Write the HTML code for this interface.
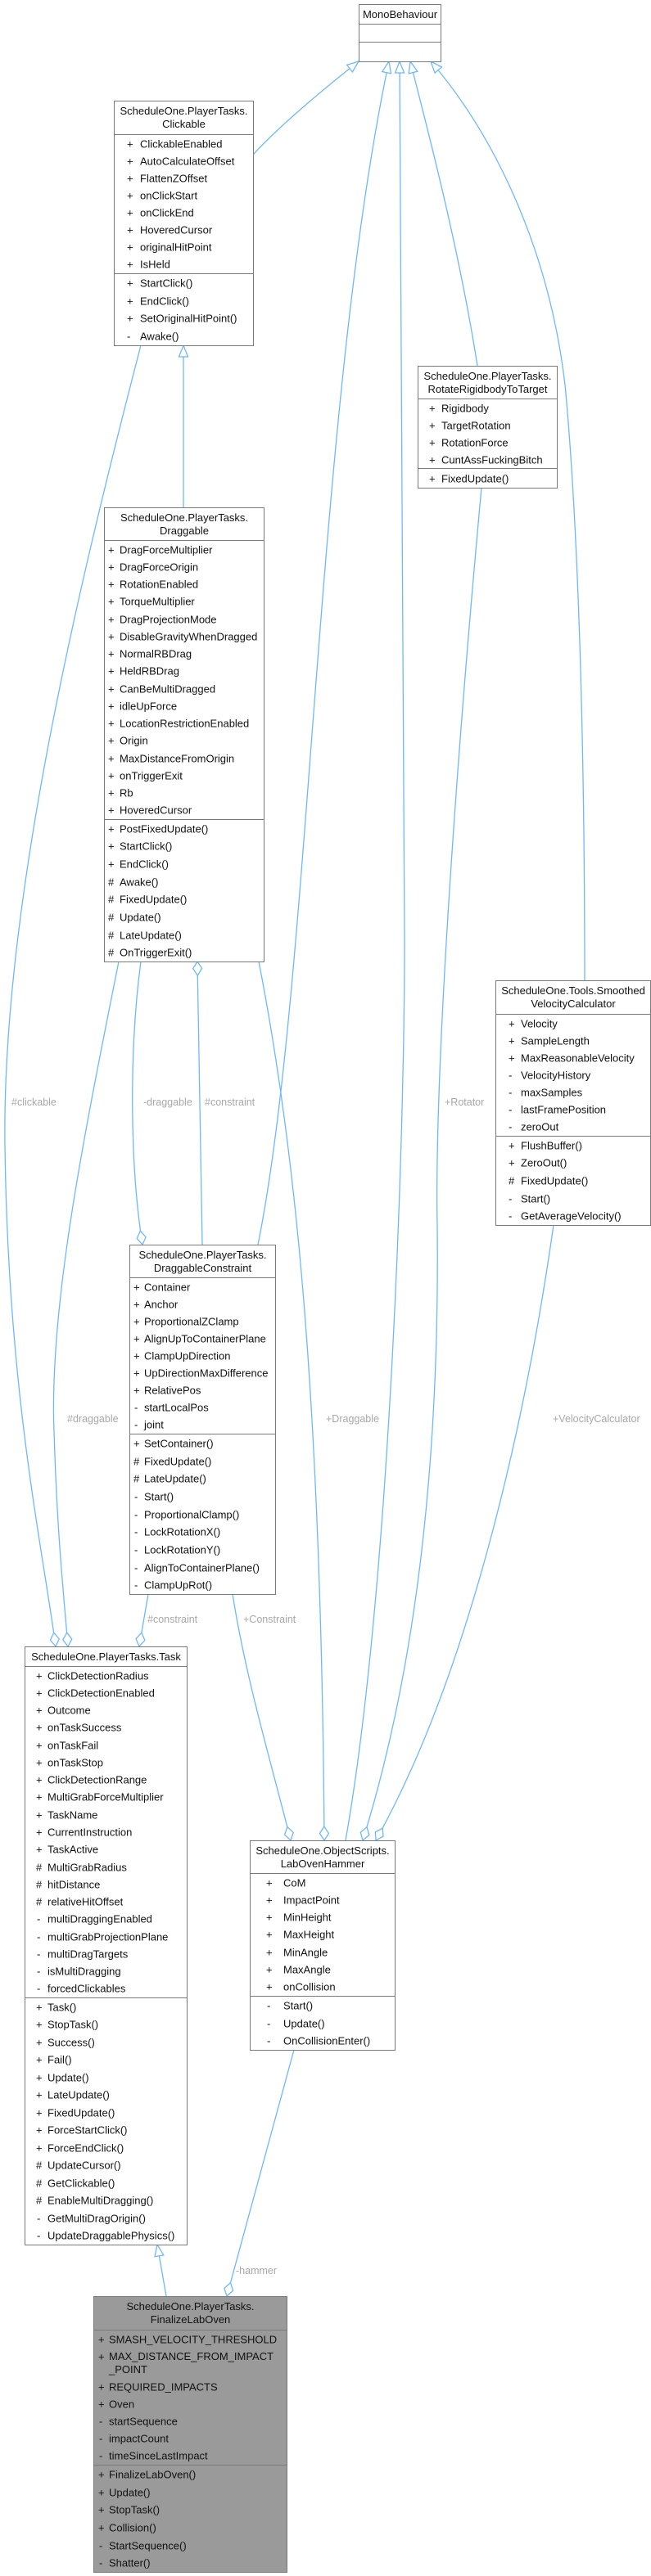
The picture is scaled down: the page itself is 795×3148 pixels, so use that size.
<!DOCTYPE html>
<html><head><meta charset="utf-8"><style>
html,body{margin:0;padding:0;background:#fff;}
body{width:795px;height:3148px;position:relative;overflow:hidden;font-family:"Liberation Sans",Arial,sans-serif;}
.b{position:absolute;border:1.5px solid #7a7a7a;background:#fff;box-sizing:border-box;font-size:13px;color:#111;display:flex;flex-direction:column;}
.t{display:flex;align-items:center;justify-content:center;text-align:center;line-height:16px;border-bottom:1.5px solid #7a7a7a;box-sizing:border-box;flex:none;}
.c{display:flex;flex-direction:column;border-bottom:1.5px solid #7a7a7a;box-sizing:border-box;flex:none;}
.c:last-child{border-bottom:none;flex:1;}
.r{flex:1;position:relative;white-space:nowrap;}
.r span{position:absolute;top:50%;transform:translateY(-50%);}
.g{background:#9a9a9a;}
.l{position:absolute;font-size:12.5px;color:#a8a8a8;white-space:nowrap;line-height:14px;}
svg{position:absolute;left:0;top:0;}
</style></head><body>
<svg width="795" height="3148" viewBox="0 0 795 3148">
<defs>
<marker id="tri" markerUnits="userSpaceOnUse" markerWidth="16" markerHeight="14" refX="14" refY="6" orient="auto" overflow="visible">
<path d="M0,0.5 L14,6 L0,11.5 z" fill="#fff" stroke="#6cb8ff" stroke-width="1.3"/></marker>
<marker id="dia" markerUnits="userSpaceOnUse" markerWidth="19" markerHeight="12" refX="17" refY="5.5" orient="auto" overflow="visible">
<path d="M0,5.5 L8.5,0 L17,5.5 L8.5,11 z" fill="#fff" stroke="#6cb8ff" stroke-width="1.3"/></marker>
</defs>
<g fill="none" stroke="#6cb8ff" stroke-width="1.3">
<!-- inheritance to MonoBehaviour -->
<path d="M309,189 C345,150 400,105 438,75" marker-end="url(#tri)"/>
<path d="M315,1521 C380,1200 385,500 475,75" marker-end="url(#tri)"/>
<path d="M422,2249 C475,1950 494,1400 494,1150 L488,75" marker-end="url(#tri)"/>
<path d="M583,447 C560,300 520,150 501,75" marker-end="url(#tri)"/>
<path d="M714,1199 C714,900 706,640 690,470 C670,300 600,160 526,75" marker-end="url(#tri)"/>
<!-- Draggable -> Clickable -->
<path d="M224,620 L224,422" marker-end="url(#tri)"/>
<!-- Finalize -> Task -->
<path d="M203,2806 L192,2743" marker-end="url(#tri)"/>
<!-- #clickable -->
<path d="M172,422 C100,700 2,1100 6,1400 C10,1700 50,1880 68,2012" marker-end="url(#dia)"/>
<!-- #draggable -->
<path d="M145,1175 C100,1400 60,1600 66,1750 C70,1880 78,1950 83,2012" marker-end="url(#dia)"/>
<!-- -draggable -->
<path d="M172,1175 C158,1280 158,1420 174,1521" marker-end="url(#dia)"/>
<!-- #constraint (Draggable) -->
<path d="M247,1521 L241,1175" marker-end="url(#dia)"/>
<!-- #constraint (Task) -->
<path d="M181,1948 L170,2012" marker-end="url(#dia)"/>
<!-- +Constraint -->
<path d="M284,1948 C300,2050 330,2150 355,2249" marker-end="url(#dia)"/>
<!-- +Draggable -->
<path d="M316,1175 C360,1400 392,1700 396,2249" marker-end="url(#dia)"/>
<!-- +Rotator -->
<path d="M588,596 C560,900 530,1300 534,1500 C537,1800 505,2050 443,2249" marker-end="url(#dia)"/>
<!-- +VelocityCalculator -->
<path d="M676,1497 C640,1750 570,2050 459,2249" marker-end="url(#dia)"/>
<!-- -hammer -->
<path d="M359,2505 L277,2806" marker-end="url(#dia)"/>
</g>
</svg>

<div class="l" style="left:14px;top:1340px">#clickable</div>
<div class="l" style="left:175px;top:1340px">-draggable</div>
<div class="l" style="left:250px;top:1340px">#constraint</div>
<div class="l" style="left:543px;top:1340px">+Rotator</div>
<div class="l" style="left:82px;top:1727px">#draggable</div>
<div class="l" style="left:398px;top:1727px">+Draggable</div>
<div class="l" style="left:675px;top:1727px">+VelocityCalculator</div>
<div class="l" style="left:180px;top:1972px">#constraint</div>
<div class="l" style="left:297px;top:1972px">+Constraint</div>
<div class="l" style="left:288px;top:2768px">-hammer</div>

<!-- MonoBehaviour -->
<div class="b" style="left:438px;top:5px;width:101px;height:71px">
<div class="t" style="height:24px">MonoBehaviour</div>
<div class="c" style="height:22px"></div>
<div class="c"></div>
</div>

<!-- Clickable -->
<div class="b" style="left:139px;top:123px;width:171px;height:300px">
<div class="t" style="height:41px">ScheduleOne.PlayerTasks.<br>Clickable</div>
<div class="c" style="height:170px">
<div class="r"><span style="left:15px">+</span><span style="left:31px">ClickableEnabled</span></div>
<div class="r"><span style="left:15px">+</span><span style="left:31px">AutoCalculateOffset</span></div>
<div class="r"><span style="left:15px">+</span><span style="left:31px">FlattenZOffset</span></div>
<div class="r"><span style="left:15px">+</span><span style="left:31px">onClickStart</span></div>
<div class="r"><span style="left:15px">+</span><span style="left:31px">onClickEnd</span></div>
<div class="r"><span style="left:15px">+</span><span style="left:31px">HoveredCursor</span></div>
<div class="r"><span style="left:15px">+</span><span style="left:31px">originalHitPoint</span></div>
<div class="r"><span style="left:15px">+</span><span style="left:31px">IsHeld</span></div>
</div>
<div class="c">
<div class="r"><span style="left:15px">+</span><span style="left:31px">StartClick()</span></div>
<div class="r"><span style="left:15px">+</span><span style="left:31px">EndClick()</span></div>
<div class="r"><span style="left:15px">+</span><span style="left:31px">SetOriginalHitPoint()</span></div>
<div class="r"><span style="left:15px">-</span><span style="left:31px">Awake()</span></div>
</div>
</div>

<!-- RotateRigidbodyToTarget -->
<div class="b" style="left:510px;top:447px;width:171px;height:150px">
<div class="t" style="height:40px">ScheduleOne.PlayerTasks.<br>RotateRigidbodyToTarget</div>
<div class="c" style="height:85px">
<div class="r"><span style="left:13px">+</span><span style="left:28px">Rigidbody</span></div>
<div class="r"><span style="left:13px">+</span><span style="left:28px">TargetRotation</span></div>
<div class="r"><span style="left:13px">+</span><span style="left:28px">RotationForce</span></div>
<div class="r"><span style="left:13px">+</span><span style="left:28px">CuntAssFuckingBitch</span></div>
</div>
<div class="c">
<div class="r"><span style="left:13px">+</span><span style="left:28px">FixedUpdate()</span></div>
</div>
</div>

<!-- Draggable -->
<div class="b" style="left:127px;top:620px;width:196px;height:556px">
<div class="t" style="height:40px">ScheduleOne.PlayerTasks.<br>Draggable</div>
<div class="c" style="height:341px">
<div class="r"><span style="left:4px">+</span><span style="left:18px">DragForceMultiplier</span></div>
<div class="r"><span style="left:4px">+</span><span style="left:18px">DragForceOrigin</span></div>
<div class="r"><span style="left:4px">+</span><span style="left:18px">RotationEnabled</span></div>
<div class="r"><span style="left:4px">+</span><span style="left:18px">TorqueMultiplier</span></div>
<div class="r"><span style="left:4px">+</span><span style="left:18px">DragProjectionMode</span></div>
<div class="r"><span style="left:4px">+</span><span style="left:18px">DisableGravityWhenDragged</span></div>
<div class="r"><span style="left:4px">+</span><span style="left:18px">NormalRBDrag</span></div>
<div class="r"><span style="left:4px">+</span><span style="left:18px">HeldRBDrag</span></div>
<div class="r"><span style="left:4px">+</span><span style="left:18px">CanBeMultiDragged</span></div>
<div class="r"><span style="left:4px">+</span><span style="left:18px">idleUpForce</span></div>
<div class="r"><span style="left:4px">+</span><span style="left:18px">LocationRestrictionEnabled</span></div>
<div class="r"><span style="left:4px">+</span><span style="left:18px">Origin</span></div>
<div class="r"><span style="left:4px">+</span><span style="left:18px">MaxDistanceFromOrigin</span></div>
<div class="r"><span style="left:4px">+</span><span style="left:18px">onTriggerExit</span></div>
<div class="r"><span style="left:4px">+</span><span style="left:18px">Rb</span></div>
<div class="r"><span style="left:4px">+</span><span style="left:18px">HoveredCursor</span></div>
</div>
<div class="c">
<div class="r"><span style="left:4px">+</span><span style="left:18px">PostFixedUpdate()</span></div>
<div class="r"><span style="left:4px">+</span><span style="left:18px">StartClick()</span></div>
<div class="r"><span style="left:4px">+</span><span style="left:18px">EndClick()</span></div>
<div class="r"><span style="left:4px">#</span><span style="left:18px">Awake()</span></div>
<div class="r"><span style="left:4px">#</span><span style="left:18px">FixedUpdate()</span></div>
<div class="r"><span style="left:4px">#</span><span style="left:18px">Update()</span></div>
<div class="r"><span style="left:4px">#</span><span style="left:18px">LateUpdate()</span></div>
<div class="r"><span style="left:4px">#</span><span style="left:18px">OnTriggerExit()</span></div>
</div>
</div>

<!-- SmoothedVelocityCalculator -->
<div class="b" style="left:605px;top:1198px;width:190px;height:300px">
<div class="t" style="height:41px">ScheduleOne.Tools.Smoothed<br>VelocityCalculator</div>
<div class="c" style="height:149px">
<div class="r"><span style="left:15px">+</span><span style="left:30px">Velocity</span></div>
<div class="r"><span style="left:15px">+</span><span style="left:30px">SampleLength</span></div>
<div class="r"><span style="left:15px">+</span><span style="left:30px">MaxReasonableVelocity</span></div>
<div class="r"><span style="left:15px">-</span><span style="left:30px">VelocityHistory</span></div>
<div class="r"><span style="left:15px">-</span><span style="left:30px">maxSamples</span></div>
<div class="r"><span style="left:15px">-</span><span style="left:30px">lastFramePosition</span></div>
<div class="r"><span style="left:15px">-</span><span style="left:30px">zeroOut</span></div>
</div>
<div class="c">
<div class="r"><span style="left:15px">+</span><span style="left:30px">FlushBuffer()</span></div>
<div class="r"><span style="left:15px">+</span><span style="left:30px">ZeroOut()</span></div>
<div class="r"><span style="left:15px">#</span><span style="left:30px">FixedUpdate()</span></div>
<div class="r"><span style="left:15px">-</span><span style="left:30px">Start()</span></div>
<div class="r"><span style="left:15px">-</span><span style="left:30px">GetAverageVelocity()</span></div>
</div>
</div>

<!-- DraggableConstraint -->
<div class="b" style="left:158px;top:1521px;width:179px;height:428px">
<div class="t" style="height:40px">ScheduleOne.PlayerTasks.<br>DraggableConstraint</div>
<div class="c" style="height:191px">
<div class="r"><span style="left:4px">+</span><span style="left:17px">Container</span></div>
<div class="r"><span style="left:4px">+</span><span style="left:17px">Anchor</span></div>
<div class="r"><span style="left:4px">+</span><span style="left:17px">ProportionalZClamp</span></div>
<div class="r"><span style="left:4px">+</span><span style="left:17px">AlignUpToContainerPlane</span></div>
<div class="r"><span style="left:4px">+</span><span style="left:17px">ClampUpDirection</span></div>
<div class="r"><span style="left:4px">+</span><span style="left:17px">UpDirectionMaxDifference</span></div>
<div class="r"><span style="left:4px">+</span><span style="left:17px">RelativePos</span></div>
<div class="r"><span style="left:5px">-</span><span style="left:17px">startLocalPos</span></div>
<div class="r"><span style="left:5px">-</span><span style="left:17px">joint</span></div>
</div>
<div class="c">
<div class="r"><span style="left:4px">+</span><span style="left:17px">SetContainer()</span></div>
<div class="r"><span style="left:4px">#</span><span style="left:17px">FixedUpdate()</span></div>
<div class="r"><span style="left:4px">#</span><span style="left:17px">LateUpdate()</span></div>
<div class="r"><span style="left:5px">-</span><span style="left:17px">Start()</span></div>
<div class="r"><span style="left:5px">-</span><span style="left:17px">ProportionalClamp()</span></div>
<div class="r"><span style="left:5px">-</span><span style="left:17px">LockRotationX()</span></div>
<div class="r"><span style="left:5px">-</span><span style="left:17px">LockRotationY()</span></div>
<div class="r"><span style="left:5px">-</span><span style="left:17px">AlignToContainerPlane()</span></div>
<div class="r"><span style="left:5px">-</span><span style="left:17px">ClampUpRot()</span></div>
</div>
</div>

<!-- Task -->
<div class="b" style="left:30px;top:2012px;width:199px;height:732px">
<div class="t" style="height:24px">ScheduleOne.PlayerTasks.Task</div>
<div class="c" style="height:405px">
<div class="r"><span style="left:13px">+</span><span style="left:27px">ClickDetectionRadius</span></div>
<div class="r"><span style="left:13px">+</span><span style="left:27px">ClickDetectionEnabled</span></div>
<div class="r"><span style="left:13px">+</span><span style="left:27px">Outcome</span></div>
<div class="r"><span style="left:13px">+</span><span style="left:27px">onTaskSuccess</span></div>
<div class="r"><span style="left:13px">+</span><span style="left:27px">onTaskFail</span></div>
<div class="r"><span style="left:13px">+</span><span style="left:27px">onTaskStop</span></div>
<div class="r"><span style="left:13px">+</span><span style="left:27px">ClickDetectionRange</span></div>
<div class="r"><span style="left:13px">+</span><span style="left:27px">MultiGrabForceMultiplier</span></div>
<div class="r"><span style="left:13px">+</span><span style="left:27px">TaskName</span></div>
<div class="r"><span style="left:13px">+</span><span style="left:27px">CurrentInstruction</span></div>
<div class="r"><span style="left:13px">+</span><span style="left:27px">TaskActive</span></div>
<div class="r"><span style="left:13px">#</span><span style="left:27px">MultiGrabRadius</span></div>
<div class="r"><span style="left:13px">#</span><span style="left:27px">hitDistance</span></div>
<div class="r"><span style="left:13px">#</span><span style="left:27px">relativeHitOffset</span></div>
<div class="r"><span style="left:14px">-</span><span style="left:27px">multiDraggingEnabled</span></div>
<div class="r"><span style="left:14px">-</span><span style="left:27px">multiGrabProjectionPlane</span></div>
<div class="r"><span style="left:14px">-</span><span style="left:27px">multiDragTargets</span></div>
<div class="r"><span style="left:14px">-</span><span style="left:27px">isMultiDragging</span></div>
<div class="r"><span style="left:14px">-</span><span style="left:27px">forcedClickables</span></div>
</div>
<div class="c">
<div class="r"><span style="left:13px">+</span><span style="left:27px">Task()</span></div>
<div class="r"><span style="left:13px">+</span><span style="left:27px">StopTask()</span></div>
<div class="r"><span style="left:13px">+</span><span style="left:27px">Success()</span></div>
<div class="r"><span style="left:13px">+</span><span style="left:27px">Fail()</span></div>
<div class="r"><span style="left:13px">+</span><span style="left:27px">Update()</span></div>
<div class="r"><span style="left:13px">+</span><span style="left:27px">LateUpdate()</span></div>
<div class="r"><span style="left:13px">+</span><span style="left:27px">FixedUpdate()</span></div>
<div class="r"><span style="left:13px">+</span><span style="left:27px">ForceStartClick()</span></div>
<div class="r"><span style="left:13px">+</span><span style="left:27px">ForceEndClick()</span></div>
<div class="r"><span style="left:13px">#</span><span style="left:27px">UpdateCursor()</span></div>
<div class="r"><span style="left:13px">#</span><span style="left:27px">GetClickable()</span></div>
<div class="r"><span style="left:13px">#</span><span style="left:27px">EnableMultiDragging()</span></div>
<div class="r"><span style="left:14px">-</span><span style="left:27px">GetMultiDragOrigin()</span></div>
<div class="r"><span style="left:14px">-</span><span style="left:27px">UpdateDraggablePhysics()</span></div>
</div>
</div>

<!-- LabOvenHammer -->
<div class="b" style="left:305px;top:2249px;width:178px;height:257px">
<div class="t" style="height:40px">ScheduleOne.ObjectScripts.<br>LabOvenHammer</div>
<div class="c" style="height:150px">
<div class="r"><span style="left:19px">+</span><span style="left:40px">CoM</span></div>
<div class="r"><span style="left:19px">+</span><span style="left:40px">ImpactPoint</span></div>
<div class="r"><span style="left:19px">+</span><span style="left:40px">MinHeight</span></div>
<div class="r"><span style="left:19px">+</span><span style="left:40px">MaxHeight</span></div>
<div class="r"><span style="left:19px">+</span><span style="left:40px">MinAngle</span></div>
<div class="r"><span style="left:19px">+</span><span style="left:40px">MaxAngle</span></div>
<div class="r"><span style="left:19px">+</span><span style="left:40px">onCollision</span></div>
</div>
<div class="c">
<div class="r"><span style="left:20px">-</span><span style="left:40px">Start()</span></div>
<div class="r"><span style="left:20px">-</span><span style="left:40px">Update()</span></div>
<div class="r"><span style="left:20px">-</span><span style="left:40px">OnCollisionEnter()</span></div>
</div>
</div>

<!-- FinalizeLabOven -->
<div class="b g" style="left:114px;top:2806px;width:237px;height:338px">
<div class="t" style="height:41px">ScheduleOne.PlayerTasks.<br>FinalizeLabOven</div>
<div class="c" style="height:165px">
<div class="r"><span style="left:5px">+</span><span style="left:18px">SMASH_VELOCITY_THRESHOLD</span></div>
<div class="r" style="flex:1.75"><span style="left:5px;top:30%">+</span><span style="left:18px;line-height:16px">MAX_DISTANCE_FROM_IMPACT<br>_POINT</span></div>
<div class="r"><span style="left:5px">+</span><span style="left:18px">REQUIRED_IMPACTS</span></div>
<div class="r"><span style="left:5px">+</span><span style="left:18px">Oven</span></div>
<div class="r"><span style="left:6px">-</span><span style="left:18px">startSequence</span></div>
<div class="r"><span style="left:6px">-</span><span style="left:18px">impactCount</span></div>
<div class="r"><span style="left:6px">-</span><span style="left:18px">timeSinceLastImpact</span></div>
</div>
<div class="c">
<div class="r"><span style="left:5px">+</span><span style="left:18px">FinalizeLabOven()</span></div>
<div class="r"><span style="left:5px">+</span><span style="left:18px">Update()</span></div>
<div class="r"><span style="left:5px">+</span><span style="left:18px">StopTask()</span></div>
<div class="r"><span style="left:5px">+</span><span style="left:18px">Collision()</span></div>
<div class="r"><span style="left:6px">-</span><span style="left:18px">StartSequence()</span></div>
<div class="r"><span style="left:6px">-</span><span style="left:18px">Shatter()</span></div>
</div>
</div>
</body></html>
